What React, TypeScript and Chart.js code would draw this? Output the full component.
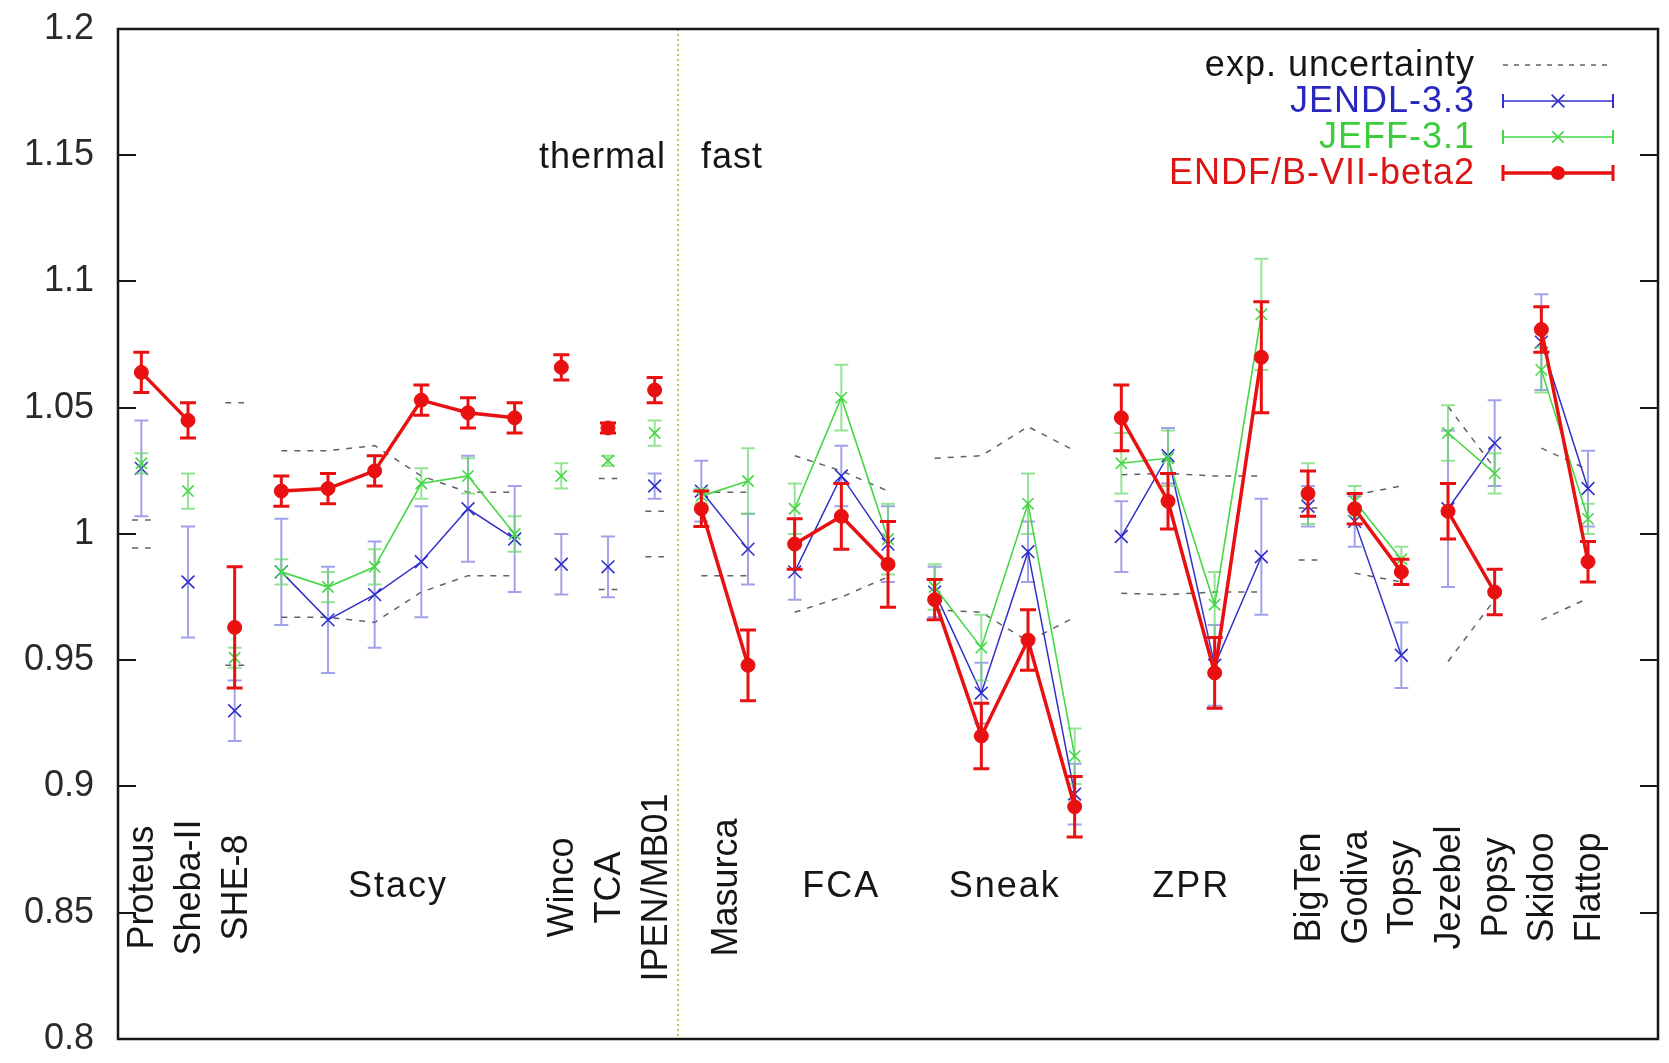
import React, { useEffect, useRef } from 'react';
import { Chart, registerables } from 'chart.js';

Chart.register(...registerables);

// Benchmark assemblies, one entry per calculated case (repeated names form one labelled group)
const benchmarks = [
  'Proteus', 'Sheba-II', 'SHE-8',
  'Stacy', 'Stacy', 'Stacy', 'Stacy', 'Stacy', 'Stacy',
  'Winco', 'TCA', 'IPEN/MB01',
  'Masurca', 'Masurca',
  'FCA', 'FCA', 'FCA',
  'Sneak', 'Sneak', 'Sneak', 'Sneak',
  'ZPR', 'ZPR', 'ZPR', 'ZPR',
  'BigTen', 'Godiva', 'Topsy', 'Jezebel', 'Popsy', 'Skidoo', 'Flattop',
];

// Group names written horizontally below their points
const horizontalLabels = ['Stacy', 'FCA', 'Sneak', 'ZPR'];

// First benchmark of the fast spectrum part
const firstFastBenchmark = 'Masurca';

// Consecutive cases sharing a number are joined by a line
const curveGroup = [0, 1, 2, 3, 3, 3, 3, 3, 3, 4, 5, 6, 7, 7, 8, 8, 8, 9, 9, 9, 9, 10, 10, 10, 10, 11, 12, 12, 13, 13, 14, 14];
const curveGroupENDF = [0, 0, 2, 3, 3, 3, 3, 3, 3, 4, 5, 6, 7, 7, 8, 8, 8, 9, 9, 9, 9, 10, 10, 10, 10, 11, 12, 12, 13, 13, 14, 14];

// C/E values and their uncertainties
const jendl = [1.026, 0.981, 0.930, 0.985, 0.966, 0.976, 0.989, 1.010, 0.998, 0.988, 0.987, 1.019, 1.017, 0.994, 0.985, 1.023, 0.996, 0.977, 0.937, 0.993, 0.897, 0.999, 1.031, 0.948, 0.991, 1.011, 1.005, 0.952, 1.010, 1.036, 1.076, 1.018];
const jendlErr = [0.019, 0.022, 0.012, 0.021, 0.021, 0.021, 0.022, 0.021, 0.021, 0.012, 0.012, 0.005, 0.012, 0.014, 0.011, 0.012, 0.015, 0.010, 0.012, 0.012, 0.012, 0.014, 0.011, 0.016, 0.023, 0.008, 0.010, 0.013, 0.031, 0.017, 0.019, 0.015];

const jeff = [1.028, 1.017, 0.951, 0.985, 0.979, 0.987, 1.020, 1.023, 1.000, 1.023, 1.029, 1.040, 1.015, 1.021, 1.010, 1.054, 0.998, 0.979, 0.955, 1.012, 0.912, 1.028, 1.030, 0.972, 1.087, 1.016, 1.013, 0.990, 1.040, 1.024, 1.065, 1.006];
const jeffErr = [0.004, 0.007, 0.004, 0.005, 0.006, 0.007, 0.006, 0.007, 0.007, 0.005, 0.002, 0.005, 0.003, 0.013, 0.010, 0.013, 0.014, 0.009, 0.013, 0.012, 0.011, 0.012, 0.011, 0.013, 0.022, 0.012, 0.006, 0.005, 0.011, 0.008, 0.009, 0.006];

const endf = [1.064, 1.045, 0.963, 1.017, 1.018, 1.025, 1.053, 1.048, 1.046, 1.066, 1.042, 1.057, 1.010, 0.948, 0.996, 1.007, 0.988, 0.974, 0.920, 0.958, 0.892, 1.046, 1.013, 0.945, 1.070, 1.016, 1.010, 0.985, 1.009, 0.977, 1.081, 0.989];
const endfErr = [0.008, 0.007, 0.024, 0.006, 0.006, 0.006, 0.006, 0.006, 0.006, 0.005, 0.002, 0.005, 0.007, 0.014, 0.010, 0.013, 0.017, 0.008, 0.013, 0.012, 0.012, 0.013, 0.011, 0.014, 0.022, 0.009, 0.006, 0.005, 0.011, 0.009, 0.009, 0.008];

// Experimental uncertainty (relative), null where not given
const expUnc: (number | null)[] = [0.0055, null, 0.052, 0.033, 0.033, 0.035, 0.023, 0.0165, 0.0165, null, 0.022, 0.009, 0.0165, 0.0165, 0.031, 0.025, 0.017, 0.030, 0.031, 0.0425, 0.033, 0.0235, 0.024, 0.023, 0.023, 0.0103, 0.0155, 0.019, 0.0505, 0.026, 0.034, 0.0255];

const yMin = 0.8;
const yMax = 1.2;
const yStep = 0.05;
const labelLevel = 0.86;
const sideLabelLevel = 1.15;

const FONT = '"Liberation Sans", Arial, Helvetica, sans-serif';
const INK = '#161616';

const BLUE = 'rgb(48,48,200)';
const BLUE_ERR = 'rgba(105,105,225,0.62)';
const GREEN = 'rgb(70,215,70)';
const GREEN_ERR = 'rgba(105,215,105,0.7)';
const RED = 'rgb(232,16,16)';
const EXP = 'rgba(70,70,70,0.85)';

type Pt = { x: number; y: number | null };

function seriesPoints(values: number[], groups: number[]): Pt[] {
  const pts: Pt[] = [];
  values.forEach((v, i) => {
    if (i > 0 && groups[i] !== groups[i - 1]) pts.push({ x: i - 0.5, y: null });
    pts.push({ x: i, y: v });
  });
  return pts;
}

// Upper (sign=+1) or lower (sign=-1) uncertainty band; lone cases get a short stub
function bandPoints(sign: number): Pt[] {
  const pts: Pt[] = [];
  const n = benchmarks.length;
  let i = 0;
  while (i < n) {
    let j = i;
    while (j + 1 < n && curveGroup[j + 1] === curveGroup[i]) j++;
    const members: number[] = [];
    for (let k = i; k <= j; k++) if (expUnc[k] != null) members.push(k);
    if (members.length === 1) {
      const k = members[0];
      const y = 1 + sign * (expUnc[k] as number);
      pts.push({ x: k - 0.2, y }, { x: k + 0.2, y });
    } else {
      members.forEach((k) => pts.push({ x: k, y: 1 + sign * (expUnc[k] as number) }));
    }
    pts.push({ x: j + 0.5, y: null });
    i = j + 1;
  }
  return pts;
}

function drawMarker(ctx: CanvasRenderingContext2D, style: string, x: number, y: number, r: number, color: string, lw: number) {
  ctx.save();
  ctx.strokeStyle = color;
  ctx.fillStyle = color;
  ctx.lineWidth = lw;
  if (style === 'circle') {
    ctx.beginPath();
    ctx.arc(x, y, r, 0, Math.PI * 2);
    ctx.fill();
  } else {
    const d = r * Math.SQRT1_2;
    ctx.beginPath();
    ctx.moveTo(x - d, y - d);
    ctx.lineTo(x + d, y + d);
    ctx.moveTo(x - d, y + d);
    ctx.lineTo(x + d, y - d);
    ctx.stroke();
  }
  ctx.restore();
}

const errorBarPlugin = {
  id: 'errorBars',
  beforeDatasetDraw(chart: any, args: any) {
    const ds = chart.data.datasets[args.index];
    if (!ds.errors) return;
    const { ctx } = chart;
    const xs = chart.scales.x;
    const ys = chart.scales.y;
    ctx.save();
    ctx.strokeStyle = ds.errorColor;
    ctx.lineWidth = ds.errorWidth;
    ds.values.forEach((v: number, i: number) => {
      const px = xs.getPixelForValue(i);
      const top = ys.getPixelForValue(v + ds.errors[i]);
      const bot = ys.getPixelForValue(v - ds.errors[i]);
      const c = ds.capHalf;
      ctx.beginPath();
      ctx.moveTo(px, top);
      ctx.lineTo(px, bot);
      ctx.moveTo(px - c, top);
      ctx.lineTo(px + c, top);
      ctx.moveTo(px - c, bot);
      ctx.lineTo(px + c, bot);
      ctx.stroke();
    });
    ctx.restore();
  },
};

const framePlugin = {
  id: 'frame',
  beforeDatasetsDraw(chart: any) {
    const { ctx, chartArea } = chart;
    const xs = chart.scales.x;
    const bx = xs.getPixelForValue(benchmarks.indexOf(firstFastBenchmark) - 0.5);
    ctx.save();
    ctx.strokeStyle = 'rgb(196,196,70)';
    ctx.lineWidth = 2;
    ctx.setLineDash([2, 3]);
    ctx.beginPath();
    ctx.moveTo(bx, chartArea.top);
    ctx.lineTo(bx, chartArea.bottom);
    ctx.stroke();
    ctx.restore();
  },
  afterDraw(chart: any) {
    const { ctx, chartArea } = chart;
    const xs = chart.scales.x;
    const ys = chart.scales.y;
    const { left, right, top, bottom } = chartArea;

    ctx.save();
    // inward tick marks on both sides
    ctx.strokeStyle = INK;
    ctx.lineWidth = 2;
    for (let v = yMin; v <= yMax + 1e-9; v += yStep) {
      const py = Math.round(ys.getPixelForValue(v));
      ctx.beginPath();
      ctx.moveTo(left, py);
      ctx.lineTo(left + 18, py);
      ctx.moveTo(right, py);
      ctx.lineTo(right - 18, py);
      ctx.stroke();
    }
    // plot border
    ctx.lineWidth = 2.5;
    ctx.strokeRect(left, top, right - left, bottom - top);

    // benchmark names
    ctx.fillStyle = INK;
    ctx.font = `36px ${FONT}`;
    ctx.textAlign = 'center';
    ctx.textBaseline = 'middle';
    const ly = ys.getPixelForValue(labelLevel);
    let i = 0;
    while (i < benchmarks.length) {
      let j = i;
      while (j + 1 < benchmarks.length && benchmarks[j + 1] === benchmarks[i]) j++;
      const name = benchmarks[i];
      const cx = xs.getPixelForValue((i + j) / 2);
      if (horizontalLabels.includes(name)) {
        ctx.save();
        (ctx as any).letterSpacing = '2px';
        ctx.fillText(name, cx, ly);
        ctx.restore();
      } else {
        ctx.save();
        ctx.translate(cx, ly);
        ctx.rotate(-Math.PI / 2);
        ctx.fillText(name, 0, 2);
        ctx.restore();
      }
      i = j + 1;
    }

    // thermal / fast annotation
    const bx = xs.getPixelForValue(benchmarks.indexOf(firstFastBenchmark) - 0.5);
    const sy = ys.getPixelForValue(sideLabelLevel) + 3;
    ctx.save();
    (ctx as any).letterSpacing = '1px';
    ctx.textAlign = 'right';
    ctx.fillText('thermal', bx - 12, sy);
    ctx.textAlign = 'left';
    ctx.fillText('fast', bx + 23, sy);
    ctx.restore();

    // key, top right
    const rows = chart.data.datasets
      .filter((d: any) => d.keyRow != null)
      .sort((a: any, b: any) => a.keyRow - b.keyRow);
    const textRight = right - 183;
    const sx0 = right - 155;
    const sx1 = right - 45;
    const smid = (sx0 + sx1) / 2;
    rows.forEach((d: any, r: number) => {
      const ry = top + 36 + r * 36;
      ctx.save();
      ctx.font = `36px ${FONT}`;
      (ctx as any).letterSpacing = '1px';
      ctx.textAlign = 'right';
      ctx.textBaseline = 'middle';
      ctx.fillStyle = d.keyColor;
      ctx.fillText(d.label, textRight, ry + 1);
      ctx.restore();

      ctx.save();
      if (d.isBand) {
        ctx.strokeStyle = EXP;
        ctx.lineWidth = 1.5;
        ctx.setLineDash([5, 6]);
        ctx.beginPath();
        ctx.moveTo(sx0, ry);
        ctx.lineTo(sx1, ry);
        ctx.stroke();
      } else {
        ctx.strokeStyle = d.borderColor;
        ctx.lineWidth = d.borderWidth;
        ctx.beginPath();
        ctx.moveTo(sx0, ry);
        ctx.lineTo(sx1, ry);
        ctx.stroke();
        ctx.lineWidth = d.errorWidth;
        ctx.beginPath();
        ctx.moveTo(sx0, ry - d.capHalf);
        ctx.lineTo(sx0, ry + d.capHalf);
        ctx.moveTo(sx1, ry - d.capHalf);
        ctx.lineTo(sx1, ry + d.capHalf);
        ctx.stroke();
        drawMarker(ctx, d.pointStyle, smid, ry, d.pointRadius, d.pointBorderColor || d.borderColor, d.pointBorderWidth || 1.5);
      }
      ctx.restore();
    });
    ctx.restore();
  },
};

function tickText(v: number): string {
  return String(Number(v.toFixed(2)));
}

export default function App() {
  const ref = useRef<HTMLCanvasElement | null>(null);

  useEffect(() => {
    if (!ref.current) return;
    const chart = new Chart(ref.current, {
      type: 'scatter',
      data: {
        datasets: [
          {
            label: 'ENDF/B-VII-beta2',
            keyRow: 3,
            keyColor: 'rgb(222,20,20)',
            data: seriesPoints(endf, curveGroupENDF),
            values: endf,
            errors: endfErr,
            errorColor: RED,
            errorWidth: 3,
            capHalf: 8,
            showLine: true,
            spanGaps: false,
            borderColor: RED,
            backgroundColor: RED,
            borderWidth: 3.5,
            pointStyle: 'circle',
            pointRadius: 7,
            pointBorderWidth: 1,
            pointBorderColor: RED,
            pointBackgroundColor: RED,
          } as any,
          {
            label: 'JEFF-3.1',
            keyRow: 2,
            keyColor: 'rgb(60,205,60)',
            data: seriesPoints(jeff, curveGroup),
            values: jeff,
            errors: jeffErr,
            errorColor: GREEN_ERR,
            errorWidth: 2,
            capHalf: 7,
            showLine: true,
            spanGaps: false,
            borderColor: GREEN,
            backgroundColor: GREEN,
            borderWidth: 1.6,
            pointStyle: 'crossRot',
            pointRadius: 8,
            pointBorderWidth: 1.6,
            pointBorderColor: GREEN,
          } as any,
          {
            label: 'JENDL-3.3',
            keyRow: 1,
            keyColor: 'rgb(40,40,190)',
            data: seriesPoints(jendl, curveGroup),
            values: jendl,
            errors: jendlErr,
            errorColor: BLUE_ERR,
            errorWidth: 2,
            capHalf: 7,
            showLine: true,
            spanGaps: false,
            borderColor: BLUE,
            backgroundColor: BLUE,
            borderWidth: 1.5,
            pointStyle: 'crossRot',
            pointRadius: 9,
            pointBorderWidth: 1.6,
            pointBorderColor: BLUE,
          } as any,
          {
            label: 'exp. uncertainty',
            keyRow: 0,
            keyColor: INK,
            isBand: true,
            data: bandPoints(1),
            showLine: true,
            spanGaps: false,
            borderColor: EXP,
            borderWidth: 1.5,
            borderDash: [6, 7],
            pointRadius: 0,
          } as any,
          {
            label: 'exp. uncertainty (lower)',
            data: bandPoints(-1),
            showLine: true,
            spanGaps: false,
            borderColor: EXP,
            borderWidth: 1.5,
            borderDash: [6, 7],
            pointRadius: 0,
          } as any,
        ],
      },
      options: {
        responsive: false,
        animation: false,
        events: [],
        layout: { padding: { left: 0, right: 11, top: 29, bottom: 24 } },
        plugins: {
          legend: { display: false },
          tooltip: { enabled: false },
        },
        scales: {
          x: {
            type: 'linear',
            display: false,
            min: -0.5,
            max: benchmarks.length + 0.5,
          },
          y: {
            type: 'linear',
            min: yMin,
            max: yMax,
            grid: { display: false, drawTicks: false },
            border: { display: false },
            ticks: {
              stepSize: yStep,
              padding: 24,
              color: '#2a2a2a',
              font: { family: FONT, size: 36 },
              callback: (v: any) => tickText(Number(v)),
            },
            afterFit: (s: any) => {
              s.width = 118;
              s.paddingTop = 0;
              s.paddingBottom = 0;
            },
          },
        },
      },
      plugins: [errorBarPlugin, framePlugin],
    });
    return () => chart.destroy();
  }, []);

  return (
    <div style={{ position: 'fixed', left: 0, top: 0, width: 1669, height: 1063, background: '#fff' }}>
      <canvas ref={ref} width={1669} height={1063} style={{ width: 1669, height: 1063, display: 'block' }} />
    </div>
  );
}
